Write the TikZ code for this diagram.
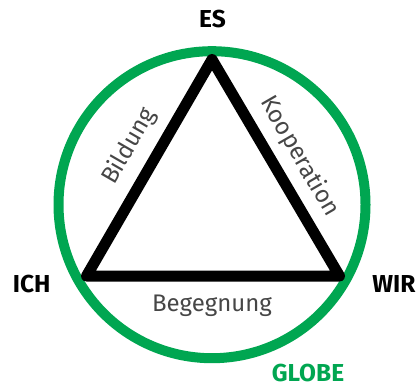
\documentclass[tikz,border=0pt]{standalone}
\usepackage{fontspec}
\setmainfont{Fira Sans}
\definecolor{globegreen}{RGB}{0,166,81}
\definecolor{labelgrey}{RGB}{70,70,70}
\begin{document}
\begin{tikzpicture}[x=1pt,y=-1pt,
  corner/.style={font=\fontsize{24.5}{28}\selectfont\bfseries, inner sep=0pt, text=black},
  edgelabel/.style={font=\fontsize{24}{28}\selectfont, inner sep=0pt, text=labelgrey},
  globering/.style={draw=globegreen, line width=10pt},
  triedge/.style={draw=black, line width=11pt, line join=round}]
\useasboundingbox (0,0) rectangle (417,385);
\coordinate (c) at (212,204.7);
\draw[globering] (c) circle[radius=153.5];
\coordinate (top) at (212,59.5);
\coordinate (bl) at (86.5,276);
\coordinate (br) at (339.5,276);
\draw[triedge] (top) -- (bl) -- (br) -- cycle;
\node[corner] (es) at (212.5,18.7) {ES};
\node[corner] (ich) at (31.7,284) {ICH};
\node[corner] (wir) at (394,284) {WIR};
\node[corner, text=globegreen] (globe) at (308,373.5) {GLOBE};
\node[edgelabel, anchor=base] (beg) at (212,311.7) {Begegnung};
\node[edgelabel, rotate=60] (bil) at (129,146.5) {Bildung};
\node[edgelabel, rotate=-60] (koop) at (299.5,156.5) {Kooperation};
\end{tikzpicture}
\end{document}
